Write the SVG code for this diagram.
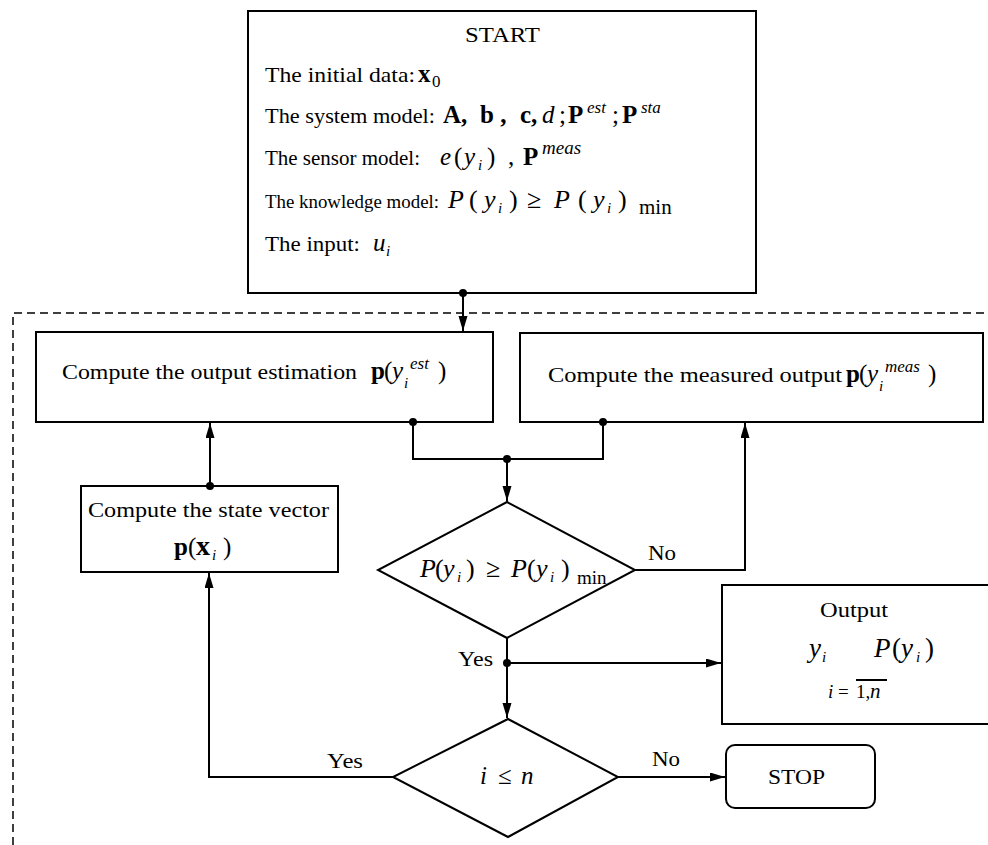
<svg xmlns="http://www.w3.org/2000/svg" width="988" height="845" viewBox="0 0 988 845">
<style>
svg{font-family:"Liberation Serif","Times New Roman",serif;font-size:21px}
text{fill:#000}
.b{font-weight:bold}
.i{font-style:italic}
.m{font-size:25px}
.sm{font-size:15px}
.sp{font-size:17px;font-style:italic}
.box{fill:#fff;stroke:#000;stroke-width:2}
.ln{fill:none;stroke:#000;stroke-width:2}
.dash{fill:none;stroke:#000;stroke-width:1.5;stroke-dasharray:8 5}
.dot{fill:#000}
</style>
<defs>
<marker id="ah" markerUnits="userSpaceOnUse" markerWidth="16" markerHeight="10" refX="15" refY="4.5" orient="auto">
<path d="M0,0 L15,4.5 L0,9 z" fill="#000"/>
</marker>
</defs>
<path class="dash" d="M13,845 V313 H990"/>
<g id="start">
<rect class="box" x="248" y="11" width="508" height="282"/>
<text x="465" y="42" textLength="75" lengthAdjust="spacingAndGlyphs">START</text>
<text x="265" y="82" textLength="150" lengthAdjust="spacingAndGlyphs">The initial data:</text>
<text y="82"><tspan class="b m" x="418">x</tspan><tspan font-size="17" x="432" y="87">0</tspan></text>
<text x="265" y="123" textLength="170" lengthAdjust="spacingAndGlyphs">The system model:</text>
<text y="123"><tspan class="b m" x="443">A,</tspan><tspan class="b m" x="480">b ,</tspan><tspan class="b m" x="520">c,</tspan><tspan class="i m" x="542">d</tspan><tspan class="m" x="559">;</tspan><tspan class="b m" x="568">P</tspan><tspan class="sp" x="587" y="113">est</tspan><tspan class="m" x="612" y="123">;</tspan><tspan class="b m" x="622">P</tspan><tspan class="sp" x="641" y="113">sta</tspan></text>
<text x="265" y="165" textLength="155" lengthAdjust="spacingAndGlyphs">The sensor model:</text>
<text y="165"><tspan class="i m" x="440">e</tspan><tspan class="m" x="454">(</tspan><tspan class="i m" x="464">y</tspan><tspan class="i sm" x="478" y="170">i</tspan><tspan class="m" x="487" y="165">)</tspan><tspan class="m" x="508">,</tspan><tspan class="b m" x="523">P</tspan><tspan class="i" font-size="19" x="542" y="154">meas</tspan></text>
<text x="265" y="208" font-size="19" textLength="174" lengthAdjust="spacingAndGlyphs">The knowledge model:</text>
<text y="208" font-size="26"><tspan class="i" x="448">P</tspan><tspan x="469">(</tspan><tspan class="i" x="484">y</tspan><tspan class="i sm" x="498" y="213">i</tspan><tspan x="509" y="208">)</tspan><tspan x="527">≥</tspan><tspan class="i" x="554">P</tspan><tspan x="578">(</tspan><tspan class="i" x="593">y</tspan><tspan class="i sm" x="607" y="213">i</tspan><tspan x="618" y="208">)</tspan><tspan font-size="21" x="639" y="214">min</tspan></text>
<text x="265" y="251" textLength="95" lengthAdjust="spacingAndGlyphs">The input:</text>
<text y="251"><tspan class="i m" x="373">u</tspan><tspan class="i sm" x="386" y="256">i</tspan></text>
</g>
<g id="estimation">
<rect class="box" x="36" y="332" width="457" height="90"/>
<text x="62" y="379" textLength="295" lengthAdjust="spacingAndGlyphs">Compute the output estimation</text>
<text y="379"><tspan class="b m" x="371">p</tspan><tspan class="m" x="384">(</tspan><tspan class="i m" x="392">y</tspan><tspan class="i sm" x="404" y="388">i</tspan><tspan class="sp" x="410" y="369">est</tspan><tspan class="m" x="438" y="379">)</tspan></text>
</g>
<g id="measured">
<rect class="box" x="520" y="333" width="463" height="89"/>
<text x="548" y="382" textLength="294" lengthAdjust="spacingAndGlyphs">Compute the measured output</text>
<text y="382"><tspan class="b m" x="846">p</tspan><tspan class="m" x="859">(</tspan><tspan class="i m" x="867">y</tspan><tspan class="i sm" x="879" y="391">i</tspan><tspan class="sp" x="885" y="372">meas</tspan><tspan class="m" x="928" y="382">)</tspan></text>
</g>
<g id="state">
<rect class="box" x="81" y="486" width="257" height="86"/>
<text x="88" y="517" textLength="241" lengthAdjust="spacingAndGlyphs">Compute the state vector</text>
<text y="555"><tspan class="b m" x="174">p</tspan><tspan class="m" x="188">(</tspan><tspan class="b" font-size="28" x="196">x</tspan><tspan class="i sm" x="212" y="560">i</tspan><tspan class="m" x="223" y="555">)</tspan></text>
</g>
<g id="check">
<polygon class="box" points="507,502 635,570 507,638 378,570"/>
<text y="577" font-size="26"><tspan class="i" x="420">P</tspan><tspan x="435">(</tspan><tspan class="i" x="443">y</tspan><tspan class="i sm" x="457" y="582">i</tspan><tspan x="466" y="577">)</tspan><tspan x="486">≥</tspan><tspan class="i" x="511">P</tspan><tspan x="527">(</tspan><tspan class="i" x="536">y</tspan><tspan class="i sm" x="550" y="582">i</tspan><tspan x="561" y="577">)</tspan><tspan font-size="19" x="577" y="584">min</tspan></text>
</g>
<g id="output">
<rect class="box" x="722" y="585" width="280" height="139"/>
<text x="820" y="617" textLength="68" lengthAdjust="spacingAndGlyphs">Output</text>
<text y="657"><tspan class="i" font-size="27" x="809">y</tspan><tspan class="i sm" x="822" y="662">i</tspan></text>
<text y="657" font-size="27"><tspan class="i" x="874">P</tspan><tspan x="892">(</tspan><tspan class="i" x="901">y</tspan><tspan class="i sm" x="916" y="662">i</tspan><tspan x="925" y="657">)</tspan></text>
<text y="698" font-size="19"><tspan class="i" x="828">i</tspan><tspan x="838">=</tspan><tspan x="856">1,</tspan><tspan class="i" font-size="21" x="870">n</tspan></text>
<path class="ln" d="M856,680 H887" stroke-width="1.5"/>
</g>
<g id="loop">
<polygon class="box" points="508,719 618,777 508,837 393,777"/>
<text y="784" font-size="25"><tspan class="i" x="480">i</tspan><tspan x="498">≤</tspan><tspan class="i" x="521">n</tspan></text>
</g>
<g id="stop">
<rect class="box" x="726" y="745" width="149" height="63" rx="9"/>
<text x="768" y="784" textLength="57" lengthAdjust="spacingAndGlyphs">STOP</text>
</g>
<g id="connectors">
<path class="ln" d="M463,293 V331" marker-end="url(#ah)"/>
<path class="ln" d="M413,422 V459 H603 V422"/>
<path class="ln" d="M507,459 V501" marker-end="url(#ah)"/>
<path class="ln" d="M635,570 H745 V423" marker-end="url(#ah)"/>
<path class="ln" d="M507,638 V718" marker-end="url(#ah)"/>
<path class="ln" d="M507,663 H721" marker-end="url(#ah)"/>
<path class="ln" d="M618,777 H725" marker-end="url(#ah)"/>
<path class="ln" d="M393,777 H209 V573" marker-end="url(#ah)"/>
<path class="ln" d="M210,486 V423" marker-end="url(#ah)"/>
<circle class="dot" cx="463" cy="293" r="4"/>
<circle class="dot" cx="413" cy="422" r="4"/>
<circle class="dot" cx="603" cy="422" r="4"/>
<circle class="dot" cx="507" cy="459" r="4"/>
<circle class="dot" cx="507" cy="663" r="4"/>
<circle class="dot" cx="210" cy="486" r="4"/>
<text x="648" y="560" textLength="28" lengthAdjust="spacingAndGlyphs">No</text>
<text x="458" y="666" textLength="35" lengthAdjust="spacingAndGlyphs">Yes</text>
<text x="327" y="768" textLength="36" lengthAdjust="spacingAndGlyphs">Yes</text>
<text x="652" y="766" textLength="28" lengthAdjust="spacingAndGlyphs">No</text>
</g>
</svg>
